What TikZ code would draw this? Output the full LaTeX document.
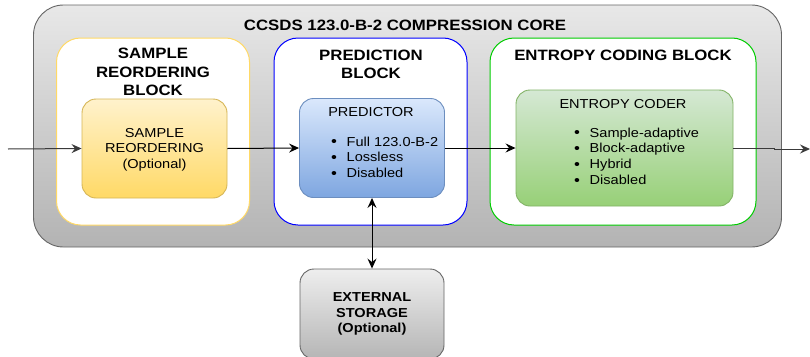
\documentclass[tikz,border=0pt]{standalone}
\usepackage{fontspec}
\setmainfont{Liberation Sans}[FakeStretch=1.12]
\usetikzlibrary{arrows.meta}

\definecolor{coreedge}{HTML}{666666}
\definecolor{coretop}{HTML}{E8E8E8}
\definecolor{corebot}{HTML}{B3B3B3}
\definecolor{sredge}{HTML}{FFD966}
\definecolor{pbedge}{HTML}{0000FF}
\definecolor{ebedge}{HTML}{00CC00}
\definecolor{yeltop}{HTML}{FFF2CC}
\definecolor{yelbot}{HTML}{FFD966}
\definecolor{yeledge}{HTML}{D6B656}
\definecolor{blutop}{HTML}{DAE8FC}
\definecolor{blubot}{HTML}{7EA6E0}
\definecolor{bluedge}{HTML}{6C8EBF}
\definecolor{grntop}{HTML}{D5E8D4}
\definecolor{grnbot}{HTML}{97D077}
\definecolor{grnedge}{HTML}{82B366}
\definecolor{stotop}{HTML}{EEEEEE}
\definecolor{stobot}{HTML}{B5B5B5}
\definecolor{wire}{HTML}{3A3A3A}

\tikzset{
  boxshape/.style={rectangle, inner sep=0pt, line width=0.9pt},
  groupbox/.style={boxshape, fill=white, rounded corners=24pt, line width=1pt},
  unitbox/.style={boxshape, rounded corners=14pt, shading=axis, shading angle=0},
  titletext/.style={font=\bfseries\fontsize{15}{18.5}\selectfont, align=center, inner sep=0pt},
  bodytext/.style={font=\fontsize{13}{15.5}\selectfont, align=center, inner sep=0pt},
  listtext/.style={font=\fontsize{13}{15.8}\selectfont, align=left, inner sep=0pt, anchor=north west},
  tip/.tip={Stealth[length=10pt,width=9pt,inset=3.5pt]},
  flow/.style={line width=1pt, -tip},
  dflow/.style={line width=1pt, tip-tip}
}

\newcommand{\bul}{\makebox[15.5pt][l]{\fontsize{15}{15}\selectfont\raisebox{-0.5pt}{•}}}

\begin{document}
\begin{tikzpicture}[x=1pt,y=-1pt]
  \useasboundingbox (0,0) rectangle (810,356);
  \clip (0,0) rectangle (810,356);
  \fill[white] (0,0) rectangle (810,356);

  % compression core
  \node[boxshape, draw=coreedge, rounded corners=30pt, shading=axis,
        top color=coretop, bottom color=corebot,
        minimum width=748pt, minimum height=242pt] (core) at (407.5,126) {};
  \node[titletext] (coretitle) at (405,25.5) {CCSDS 123.0-B-2 COMPRESSION CORE};

  % the three blocks
  \node[groupbox, draw=sredge, minimum width=193pt, minimum height=187pt] (srblock) at (153,131.5) {};
  \node[groupbox, draw=pbedge, minimum width=193pt, minimum height=187pt] (pblock) at (370.5,131.5) {};
  \node[groupbox, draw=ebedge, minimum width=266pt, minimum height=187pt] (eblock) at (623,131.5) {};

  \node[titletext] (srtitle) at (153,72) {SAMPLE\\REORDERING\\BLOCK};
  \node[titletext] (pbtitle) at (371,64.5) {PREDICTION\\BLOCK};
  \node[titletext] (ebtitle) at (623,55) {ENTROPY CODING BLOCK};

  % functional units
  \node[unitbox, draw=yeledge, top color=yeltop, bottom color=yelbot,
        minimum width=145pt, minimum height=99pt] (sr) at (154.5,148.5) {};
  \node[bodytext] (srtext) at (154.5,149.5) {SAMPLE\\REORDERING\\(Optional)};

  \node[unitbox, draw=bluedge, top color=blutop, bottom color=blubot,
        minimum width=145pt, minimum height=99pt] (pred) at (372,148) {};
  \node[bodytext] (predtitle) at (371,112.5) {PREDICTOR};
  \node[listtext] (predlist) at (331,136.5) {\bul Full 123.0-B-2\\\bul Lossless\\\bul Disabled};

  \node[unitbox, draw=grnedge, top color=grntop, bottom color=grnbot,
        minimum width=217pt, minimum height=116pt] (ec) at (624.5,148) {};
  \node[bodytext] (ectitle) at (623,104) {ENTROPY CODER};
  \node[listtext] (eclist) at (574,127.5) {\bul Sample-adaptive\\\bul Block-adaptive\\\bul Hybrid\\\bul Disabled};

  % external storage
  \node[boxshape, draw=coreedge, rounded corners=14pt, shading=axis,
        top color=stotop, bottom color=stobot,
        minimum width=144pt, minimum height=90pt] (store) at (372,314) {};
  \node[titletext, font=\bfseries\fontsize{13}{15.8}\selectfont] (storetext) at (372,314) {EXTERNAL\\STORAGE\\(Optional)};

  % data flow
  \coordinate (in) at (8,149);
  \coordinate (kink) at (774,149);
  \coordinate (out) at (810,149);
  \draw[flow, draw=wire] (in) -- (sr.west);
  \draw[flow] (sr.east) -- (pred.west);
  \draw[flow] (pred.east) -- (ec.west);
  \draw[flow, draw=wire] (ec.east) -| (kink) -- (out);
  \draw[dflow] (pred.south) -- (store.north);
\end{tikzpicture}
\end{document}
